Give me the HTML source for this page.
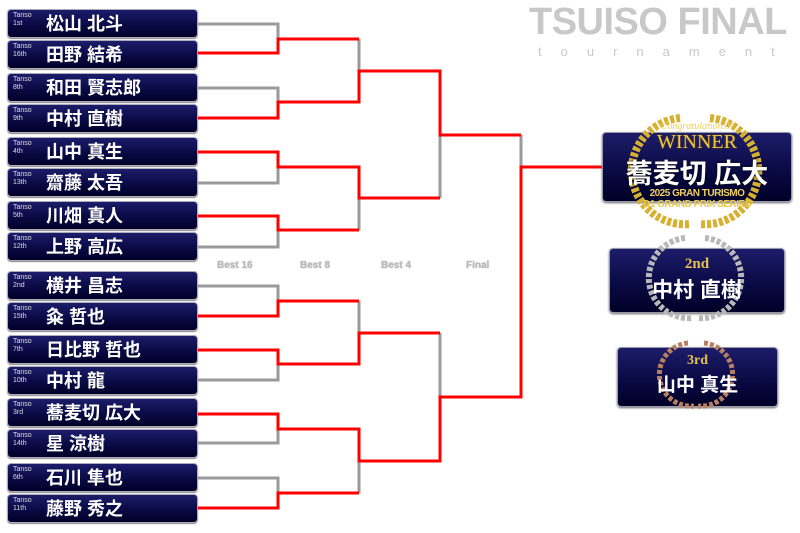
<!DOCTYPE html>
<html><head><meta charset="utf-8"><style>
html,body{margin:0;padding:0;background:#fff;width:800px;height:533px;overflow:hidden;position:relative;font-family:"Liberation Sans","Noto Sans CJK JP",sans-serif}
.b{position:absolute;left:7px;width:189px;height:27px;border:1px solid #aab;border-radius:4px;background:linear-gradient(#1c1c6a,#0a0a45 55%,#000028);box-shadow:0 1px 1px #888}
.b .t{position:absolute;left:5px;top:2px;color:#ddd;font-size:7px;line-height:8px}
.b .n{position:absolute;left:38px;top:2px;color:#fff;font-size:18px;font-weight:bold;line-height:24px;white-space:nowrap}
.lbl{position:absolute;top:260px;color:#bbb;font-size:10px;font-weight:bold;text-shadow:0 0 1px #999}
.p{position:absolute;border:1px solid #99a;border-radius:4px;background:linear-gradient(#1c1c6a,#0a0a45 55%,#000028);box-shadow:0 1px 2px #666}
.c{position:absolute;left:0;right:0;text-align:center;white-space:nowrap}
</style></head><body>
<div style="position:absolute;left:529px;top:1px;font-size:38px;font-weight:bold;color:#c8c8c8;letter-spacing:-0.5px">TSUISO FINAL</div>
<div style="position:absolute;left:538px;top:44px;font-size:13px;color:#c8c8c8;letter-spacing:19px">tournament</div>

<div class="b" style="top:9px"><div class="t">Tanso<br>1st</div><div class="n">松山 北斗</div></div>
<div class="b" style="top:40px"><div class="t">Tanso<br>16th</div><div class="n">田野 結希</div></div>
<div class="b" style="top:73px"><div class="t">Tanso<br>8th</div><div class="n">和田 賢志郎</div></div>
<div class="b" style="top:104px"><div class="t">Tanso<br>9th</div><div class="n">中村 直樹</div></div>
<div class="b" style="top:137px"><div class="t">Tanso<br>4th</div><div class="n">山中 真生</div></div>
<div class="b" style="top:168px"><div class="t">Tanso<br>13th</div><div class="n">齋藤 太吾</div></div>
<div class="b" style="top:201px"><div class="t">Tanso<br>5th</div><div class="n">川畑 真人</div></div>
<div class="b" style="top:232px"><div class="t">Tanso<br>12th</div><div class="n">上野 高広</div></div>
<div class="b" style="top:271px"><div class="t">Tanso<br>2nd</div><div class="n">横井 昌志</div></div>
<div class="b" style="top:302px"><div class="t">Tanso<br>15th</div><div class="n">粂 哲也</div></div>
<div class="b" style="top:335px"><div class="t">Tanso<br>7th</div><div class="n">日比野 哲也</div></div>
<div class="b" style="top:366px"><div class="t">Tanso<br>10th</div><div class="n">中村 龍</div></div>
<div class="b" style="top:398px"><div class="t">Tanso<br>3rd</div><div class="n">蕎麦切 広大</div></div>
<div class="b" style="top:429px"><div class="t">Tanso<br>14th</div><div class="n">星 涼樹</div></div>
<div class="b" style="top:463px"><div class="t">Tanso<br>6th</div><div class="n">石川 隼也</div></div>
<div class="b" style="top:494px"><div class="t">Tanso<br>11th</div><div class="n">藤野 秀之</div></div>

<div class="lbl" style="left:217px">Best 16</div>
<div class="lbl" style="left:300px">Best 8</div>
<div class="lbl" style="left:381px">Best 4</div>
<div class="lbl" style="left:466px">Final</div>

<svg width="800" height="533" style="position:absolute;left:0;top:0" fill="none" stroke-width="3">
<g stroke="#9a9a9a">
<polyline points="198,24 278,24 278,39"/>
<polyline points="198,88 278,88 278,102"/>
<polyline points="198,183 278,183 278,167"/>
<polyline points="198,247 278,247 278,230"/>
<polyline points="198,286 278,286 278,301"/>
<polyline points="198,380 278,380 278,364"/>
<polyline points="198,443 278,443 278,429"/>
<polyline points="198,478 278,478 278,493"/>
<line x1="359" y1="39" x2="359" y2="71"/>
<line x1="359" y1="198" x2="359" y2="230"/>
<line x1="359" y1="301" x2="359" y2="333"/>
<line x1="359" y1="461" x2="359" y2="493"/>
<line x1="440" y1="135" x2="440" y2="198"/>
<line x1="440" y1="333" x2="440" y2="397"/>
<line x1="521" y1="135" x2="521" y2="167"/>
</g>
<g stroke="#f00">
<polyline points="198,53 278,53 278,39 359,39"/>
<polyline points="198,118 278,118 278,102 359,102 359,71 440,71 440,135 521,135"/>
<polyline points="198,152 278,152 278,167 359,167 359,198 440,198"/>
<polyline points="198,216 278,216 278,230 359,230"/>
<polyline points="198,316 278,316 278,301 359,301"/>
<polyline points="198,350 278,350 278,364 359,364 359,333 440,333"/>
<polyline points="198,414 278,414 278,429 359,429 359,461 440,461 440,397 521,397 521,167 602,167"/>
<polyline points="198,508 278,508 278,493 359,493"/>
</g>
</svg>

<div class="p" style="left:602px;top:132px;width:188px;height:68px"></div>
<div class="p" style="left:609px;top:248px;width:174px;height:63px"></div>
<div class="p" style="left:617px;top:347px;width:159px;height:58px"></div>

<svg width="800" height="533" style="position:absolute;left:0;top:0" fill="none">
<g stroke-dasharray="4 2">
<path d="M680,118 A52,52 0 0 0 690,224" stroke="#d8b030" stroke-width="8"/>
<path d="M710,118 A52,52 0 0 1 700,224" stroke="#d8b030" stroke-width="8"/>
<path d="M685,238 A38,38 0 0 0 693,318" stroke="#b8b8b8" stroke-width="6"/>
<path d="M705,238 A38,38 0 0 1 697,318" stroke="#b8b8b8" stroke-width="6"/>
<path d="M688,343 A30,30 0 0 0 694,406" stroke="#b88060" stroke-width="5"/>
<path d="M704,343 A30,30 0 0 1 698,406" stroke="#b88060" stroke-width="5"/>
</g>
</svg>

<div class="c" style="left:602px;width:190px;top:121px;font-size:10px;color:#f0d060;font-family:'Liberation Serif',serif;font-style:italic">Congratulations!!</div>
<div class="c" style="left:602px;width:190px;top:131px;font-size:20px;color:#f0c840;font-family:'Liberation Serif',serif;text-shadow:0 0 2px #640">WINNER</div>
<div class="c" style="left:602px;width:190px;top:152px;font-size:27px;color:#fff;font-weight:bold;text-shadow:0 0 2px #000">蕎麦切 広大</div>
<div class="c" style="left:602px;width:190px;top:188px;font-size:10px;color:#f0d060;font-weight:bold;letter-spacing:-0.5px">2025 GRAN TURISMO</div>
<div class="c" style="left:602px;width:190px;top:199px;font-size:10px;color:#e8c850;font-weight:bold;letter-spacing:-0.5px">D1 GRAND PRIX SERIES</div>

<div class="c" style="left:609px;width:176px;top:256px;font-size:15px;color:#e8c050;font-weight:bold;font-family:'Liberation Serif',serif">2nd</div>
<div class="c" style="left:609px;width:176px;top:274px;font-size:21px;color:#fff;font-weight:bold">中村 直樹</div>
<div class="c" style="left:617px;width:161px;top:353px;font-size:14px;color:#e8c050;font-weight:bold;font-family:'Liberation Serif',serif">3rd</div>
<div class="c" style="left:617px;width:161px;top:370px;font-size:19px;color:#fff;font-weight:bold">山中 真生</div>
</body></html>
